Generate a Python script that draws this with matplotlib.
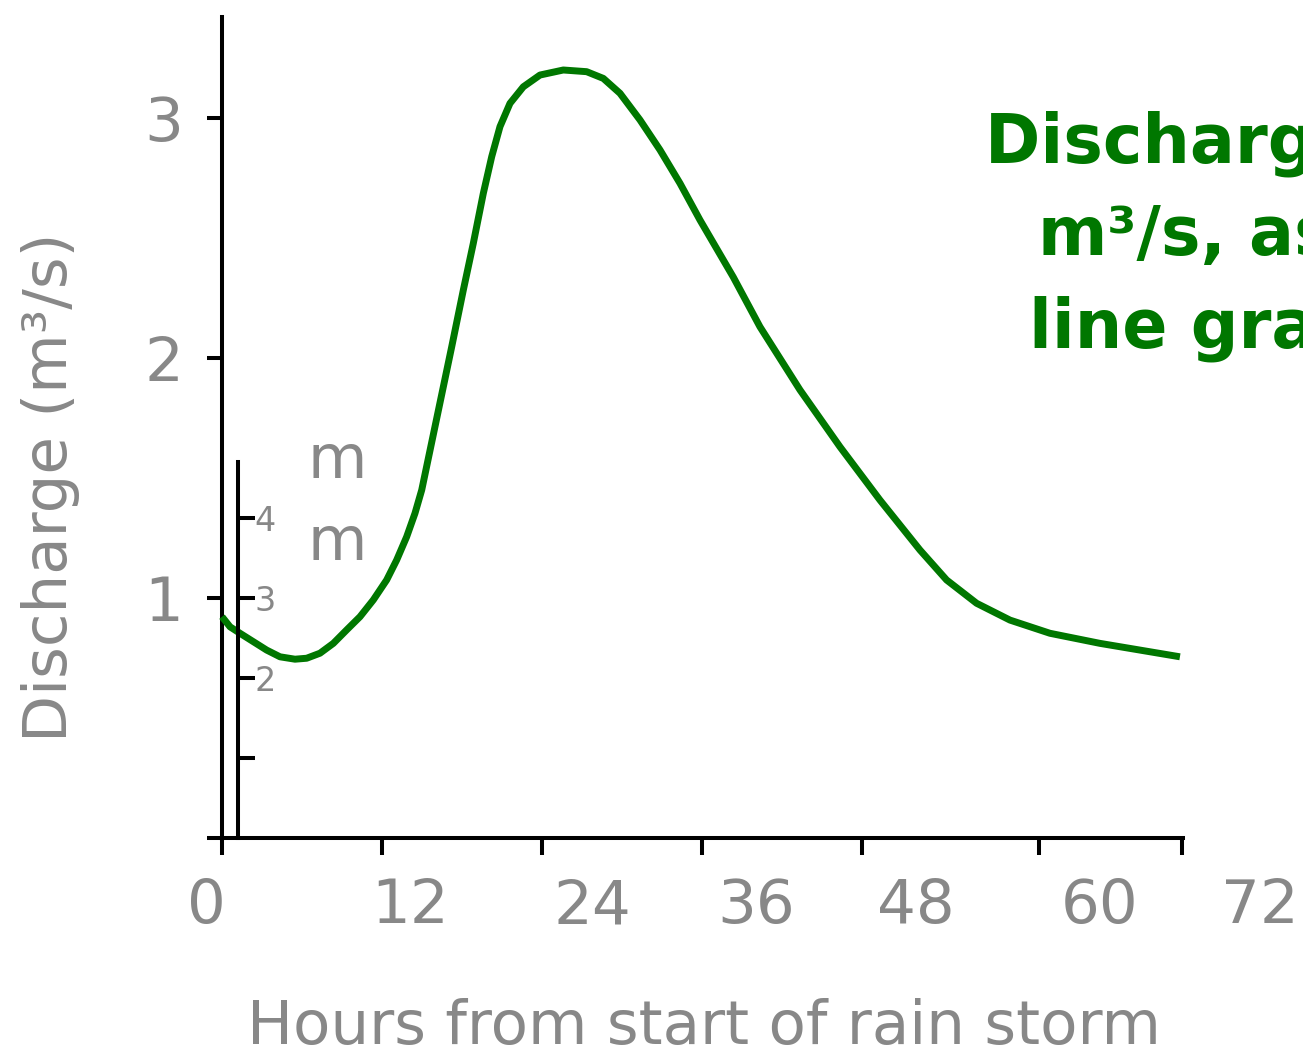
import matplotlib
matplotlib.use("Agg")
import matplotlib.pyplot as plt
from matplotlib import transforms

# Hydrograph: river discharge after a rain storm
hours = [0.0, 0.6, 1.35, 2.35, 3.35, 4.35, 5.475, 6.35, 7.35, 8.35, 9.35, 10.35,
         11.35, 12.35, 13.1, 13.85, 14.475, 14.98, 17.23, 18.1, 18.85, 19.6,
         20.23, 20.85, 21.6, 22.6, 23.85, 25.6, 27.35, 28.6, 29.85, 31.35,
         32.85, 34.35, 35.85, 38.35, 40.35, 43.35, 46.35, 49.35, 52.35, 54.35,
         56.6, 59.1, 62.1, 65.85, 68.85, 71.85]
discharge = [0.922, 0.880, 0.853, 0.818, 0.783, 0.755, 0.745, 0.749, 0.770,
             0.811, 0.867, 0.922, 0.992, 1.075, 1.158, 1.255, 1.353, 1.450,
             2.047, 2.283, 2.478, 2.686, 2.839, 2.964, 3.061, 3.130, 3.179,
             3.200, 3.193, 3.165, 3.103, 2.992, 2.867, 2.728, 2.575, 2.337,
             2.130, 1.867, 1.630, 1.408, 1.200, 1.075, 0.978, 0.908, 0.853,
             0.811, 0.783, 0.755]

x_tick_positions = [0, 12, 24, 36, 48, 61.3, 72]
x_tick_labels = ["0", "12", "24", "36", "48", "60", "72"]
x_label_positions = [-1.2, 14.1, 27.75, 40.1, 52.05, 65.8, 77.85]

y_ticks = [0, 1, 2, 3]
y_tick_labels = ["", "1", "2", "3"]

rain_ticks = [1, 2, 3, 4]
rain_tick_labels = ["", "2", "3", "4"]

GREEN = "#007700"
GRAY = "#888888"
W, H = 1303, 1058

fig = plt.figure(figsize=(W / 100, H / 100), dpi=100)
plt.rcParams["font.family"] = ["DejaVu Sans"]


def fx(px):
    return px / W


def fy(py):
    return 1 - py / H


# main discharge axes
x0, x1, ybot = 222, 1183, 838
ytop = ybot - 3.42 * 240
ax = fig.add_axes([fx(x0), fy(ybot), fx(x1) - fx(x0), fy(ytop) - fy(ybot)])
ax.set_xlim(0, 72.08)
ax.set_ylim(0, 3.42)
for s in ("top", "right"):
    ax.spines[s].set_visible(False)
for s in ("left", "bottom"):
    ax.spines[s].set_linewidth(2.9)
    ax.spines[s].set_color("black")

ax.plot(hours, discharge, color=GREEN, lw=5.0, solid_capstyle="butt",
        solid_joinstyle="round", clip_on=False, zorder=3)

ax.set_xticks(x_tick_positions)
ax.set_xticklabels([])
ax.tick_params(axis="x", length=12, width=2.9, color="black")
trans = transforms.blended_transform_factory(ax.transData, ax.transAxes)
lab_y = -(923 - ybot) / (ybot - ytop)
for pos, lab in zip(x_label_positions, x_tick_labels):
    ax.text(pos, lab_y, lab, transform=trans, ha="center", va="baseline",
            fontsize=44, color=GRAY, clip_on=False)

ax.set_yticks(y_ticks)
ax.set_yticklabels(y_tick_labels)
ax.tick_params(axis="y", length=11, width=2.9, color="black", pad=17,
               labelsize=44, labelcolor=GRAY)

ax.set_ylabel("Discharge (m³/s)", fontsize=44, color=GRAY)
ax.yaxis.set_label_coords((80 - x0) / (x1 - x0), (ybot - 487) / (ybot - ytop))
ax.set_xlabel("Hours from start of rain storm", fontsize=44, color=GRAY)
ax.xaxis.set_label_coords((704 - x0) / (x1 - x0), -(998 - ybot) / (ybot - ytop))

# small rainfall scale (mm)
r_top = 462
ax2 = fig.add_axes([fx(228), fy(ybot), fx(238) - fx(228), fy(r_top) - fy(ybot)])
ax2.set_ylim(0, (ybot - r_top) / 80)
ax2.patch.set_visible(False)
for s in ("top", "left", "bottom"):
    ax2.spines[s].set_visible(False)
ax2.spines["right"].set_linewidth(2.9)
ax2.set_xticks([])
ax2.yaxis.tick_right()
ax2.set_yticks(rain_ticks)
ax2.set_yticklabels(rain_tick_labels)
ax2.tick_params(axis="y", length=12, width=2.9, color="black", pad=0,
                labelsize=24, labelcolor=GRAY)

fig.text(fx(337), fy(502), "m\nm", fontsize=44, color=GRAY, ha="center",
         va="center", linespacing=1.5)

# title block at the right
fig.text(fx(1220), fy(348), "Discharge in\nm³/s, as a\nline graph",
         fontsize=48, fontweight="bold", color=GREEN, ha="center",
         va="baseline", linespacing=1.51)

fig.savefig("out.png", dpi=100)
